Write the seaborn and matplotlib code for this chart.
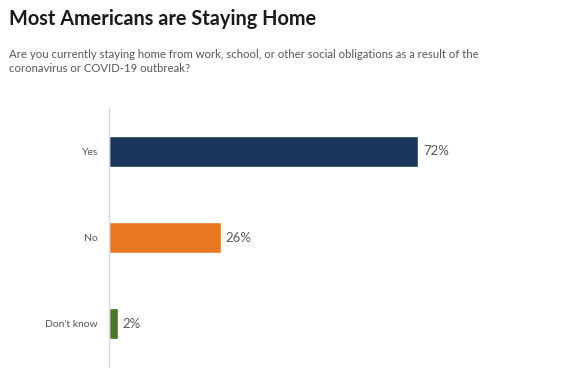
import pandas as pd
import matplotlib.pyplot as plt
import seaborn as sns

# ==========================
# data
# ==========================
categories = ["Yes", "No", "Don't know"]
shares = [72, 26, 2]
bar_colors = ["#1B365D", "#E87722", "#4A7729"]

title = "Most Americans are Staying Home"
subtitle = ("Are you currently staying home from work, school, or other social obligations as a result of the\n"
            "coronavirus or COVID-19 outbreak?")

df = pd.DataFrame({"answer": categories, "share": shares})

sns.set_theme(style="white")
plt.rcParams['font.family'] = ['Lato', 'DejaVu Sans']

fig = plt.figure(figsize=(5.65, 3.76), dpi=100)
W, H = 565, 376
# plot area in pixels: left 109, right 538, top 108, bottom 367
ax = fig.add_axes([109 / W, 1 - 367 / H, (538 - 109) / W, (367 - 108) / H])

sns.barplot(data=df, x="share", y="answer", hue="answer", palette=bar_colors,
            orient="h", width=0.36, legend=False, ax=ax, saturation=1)

ax.set_xlim(0, 100)
ax.set_ylim(2.5, -0.5)
ax.set_xlabel("")
ax.set_ylabel("")
ax.set_xticks([])
ax.tick_params(axis="y", length=0, labelsize=7.5, labelcolor="#595959", pad=8)

for s in ["top", "right", "bottom"]:
    ax.spines[s].set_visible(False)
ax.spines["left"].set_color("#D9D9D9")
ax.spines["left"].set_linewidth(1)

for i, v in enumerate(shares):
    ax.text(v + 1.2, i, f"{v}%", va="center", ha="left", fontsize=9.5, color="#595959")

fig.text(9 / W, 1 - 9 / H, title, fontsize=14.3, fontweight="bold", color="#1A1A1A",
         va="top", ha="left")
fig.text(9 / W, 1 - 49 / H, subtitle, fontsize=8.2, color="#595959", va="top", ha="left",
         linespacing=1.35)

plt.savefig("out.png", dpi=100)
